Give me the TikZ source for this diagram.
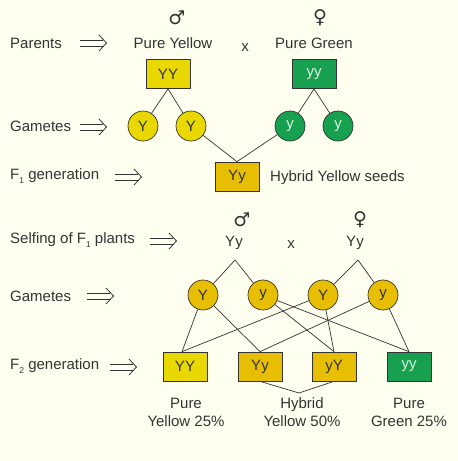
\documentclass[tikz,border=0pt]{standalone}
\usepackage{fontspec}
\setmainfont{Liberation Sans}
\newfontfamily\symfont{DejaVu Sans}
\definecolor{bg}{HTML}{FFFFF0}
\definecolor{txt}{HTML}{333333}
\definecolor{yel}{HTML}{E8D800}
\definecolor{gold}{HTML}{E8BE00}
\definecolor{grn}{HTML}{17A050}
\definecolor{mint}{HTML}{D8F5DC}
\newcommand{\sub}[1]{\raisebox{-3.5pt}{\fontsize{8.5}{9}\selectfont #1}}
\tikzset{
  lbl/.style={anchor=west, text=txt, font=\fontsize{15}{16}\selectfont, inner sep=0pt},
  txtc/.style={text=txt, font=\fontsize{15}{16}\selectfont, inner sep=0pt, align=center},
  sym/.style={text=txt, font=\symfont\fontsize{19}{20}\selectfont, inner sep=0pt},
  gbox/.style={draw=txt, line width=0.7pt, minimum width=44pt, minimum height=29pt, inner sep=0pt, text=txt, font=\fontsize{15}{16}\selectfont},
  gcirc/.style={circle, draw=txt, line width=0.7pt, minimum size=30pt, inner sep=0pt, text=txt, font=\fontsize{15}{16}\selectfont},
  link/.style={draw=txt, line width=0.7pt},
  implarrow/.pic={
    \draw[draw=txt, line width=0.8pt] (-13,-3) -- (10,-3) (-13,3) -- (10,3);
    \draw[draw=txt, line width=0.8pt, line join=miter] (6,-8) -- (13.5,0) -- (6,8);
  },
}
\begin{document}
\begin{tikzpicture}[x=1pt, y=-1pt]
\fill[bg] (0,0) rectangle (458,461);
\useasboundingbox (0,0) rectangle (458,461);

% ---------- top part ----------
\node[sym] (m1) at (177,18) {♂};
\node[sym] (f1) at (320,18) {♀};

\node[lbl] (lparents) at (10,43) {Parents};
\pic at (93,43) {implarrow};
\node[txtc] (pyel) at (173,43) {Pure Yellow};
\node[txtc] (cross1) at (245,48) {x};
\node[txtc] (pgrn) at (314,43) {Pure Green};

\node[gbox, fill=yel] (YYp) at (168,74) {YY};
\node[gbox, fill=grn, text=mint] (yyp) at (314,74) {yy};

\node[lbl] (lgam1) at (10,126) {Gametes};
\pic at (93,127) {implarrow};

\node[gcirc, fill=yel] (g1) at (143,126) {Y};
\node[gcirc, fill=yel] (g2) at (191,126) {Y};
\node[gcirc, fill=grn, text=mint] (g3) at (290,126) {y};
\node[gcirc, fill=grn, text=mint] (g4) at (338,126) {y};

\draw[link] (YYp.south) -- (g1);
\draw[link] (YYp.south) -- (g2);
\draw[link] (yyp.south) -- (g3);
\draw[link] (yyp.south) -- (g4);

\node[lbl] (lf1) at (10,176) {F\sub{1} generation};
\pic at (128,177) {implarrow};

\node[gbox, fill=gold] (F1) at (237,176.5) {Yy};
\node[lbl] (hys) at (270,178) {Hybrid Yellow seeds};
\draw[link] (g2) -- (F1.north);
\draw[link] (g3) -- (F1.north);

% ---------- bottom part ----------
\node[sym] (m2) at (242,220) {♂};
\node[sym] (f2) at (360,220) {♀};

\node[lbl] (lself) at (10,240) {Selfing of F\sub{1} plants};
\pic at (163,241) {implarrow};
\node[txtc] (P1) at (234,243) {Yy};
\node[txtc] (cross2) at (291,245) {x};
\node[txtc] (P2) at (355,243) {Yy};
\coordinate (r1) at (235,260);
\coordinate (r2) at (358,260);

\node[lbl] (lgam2) at (10,296) {Gametes};
\pic at (100,296) {implarrow};

\node[gcirc, fill=gold] (h1) at (203,295) {Y};
\node[gcirc, fill=gold] (h2) at (263,295) {y};
\node[gcirc, fill=gold] (h3) at (323,295) {Y};
\node[gcirc, fill=gold] (h4) at (383,295) {y};

\draw[link] (r1) -- (h1);
\draw[link] (r1) -- (h2);
\draw[link] (r2) -- (h3);
\draw[link] (r2) -- (h4);

\node[lbl] (lf2) at (10,366) {F\sub{2} generation};
\pic at (123,367) {implarrow};

\node[gbox, fill=yel] (c1) at (185,366.5) {YY};
\node[gbox, fill=gold] (c2) at (260,366.5) {Yy};
\node[gbox, fill=gold] (c3) at (334,366.5) {yY};
\node[gbox, fill=grn, text=mint] (c4) at (409,366.5) {yy};

\draw[link] (h1) -- ([xshift=-3pt]c1.north);
\draw[link] (h3) -- ([xshift=-3pt]c1.north);
\draw[link] (h1) -- (c2.north);
\draw[link] (h4) -- (c2.north);
\draw[link] (h2) -- (c3.north);
\draw[link] (h3) -- (c3.north);
\draw[link] (h2) -- (c4.north);
\draw[link] (h4) -- (c4.north);

\coordinate (vb) at (299,393);
\draw[link] (c2.south) -- (vb) -- (c3.south);

\node[txtc] (t1) at (186,412) {Pure\\[2pt]Yellow 25\%};
\node[txtc] (t2) at (302,412) {Hybrid\\[2pt]Yellow 50\%};
\node[txtc] (t3) at (409,412) {Pure\\[2pt]Green 25\%};
\end{tikzpicture}
\end{document}
